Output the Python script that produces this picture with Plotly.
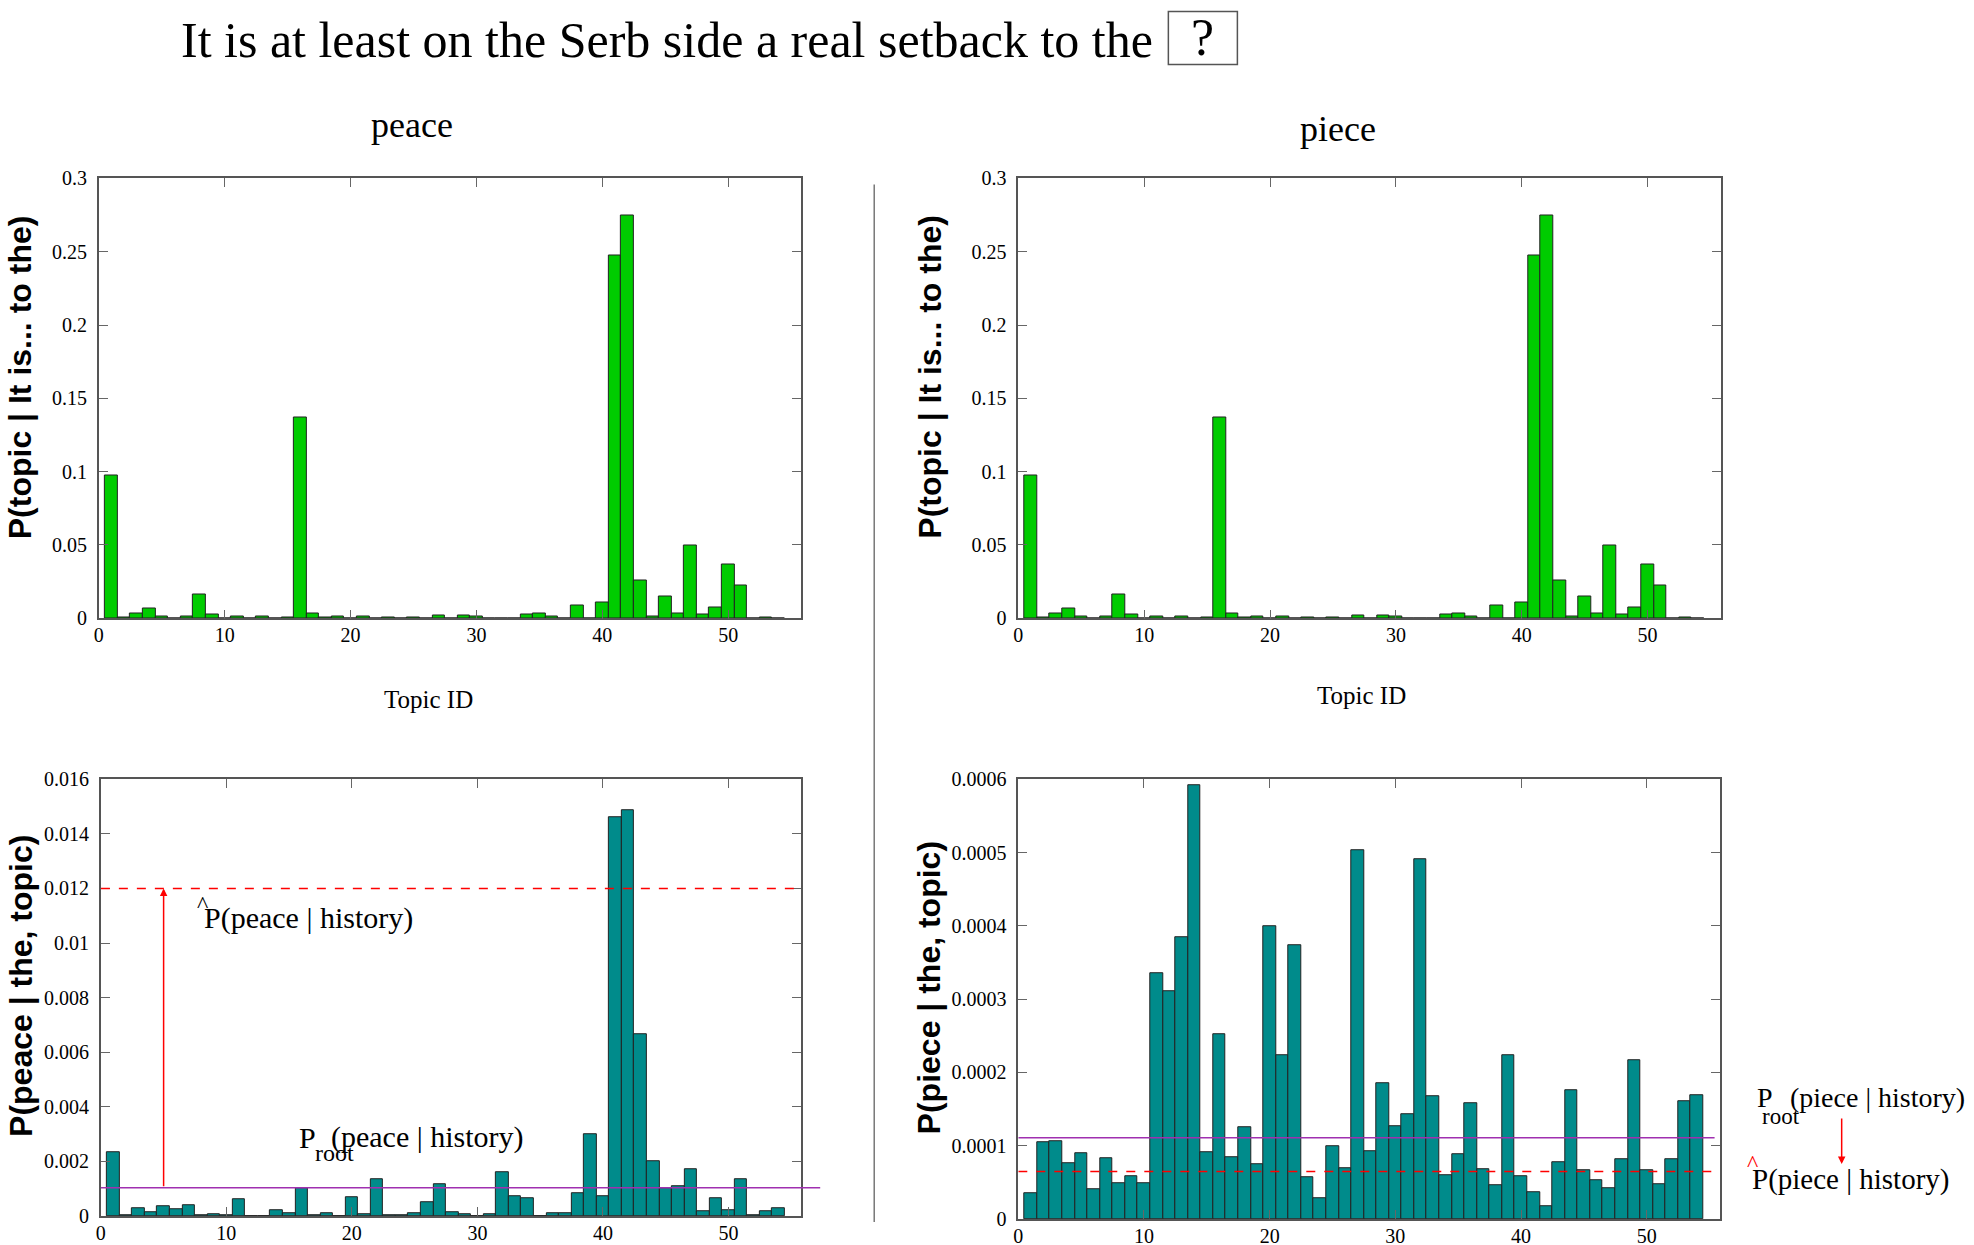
import plotly.graph_objects as go

# ─── DATA ────────────────────────────────────────────────────────────────────
topic_ids = list(range(1, 55))

p_topic = [0.0977, 0.0005, 0.003, 0.0064, 0.001, 0.0, 0.001, 0.016, 0.0023, 0.0,
           0.001, 0.0, 0.001, 0.0, 0.0005, 0.137, 0.003, 0.0005, 0.001, 0.0,
           0.001, 0.0, 0.0003, 0.0, 0.0007, 0.0, 0.002, 0.0, 0.0018, 0.001,
           0.0, 0.0, 0.0, 0.0025, 0.003, 0.0014, 0.0, 0.009, 0.0, 0.0107,
           0.2477, 0.275, 0.0255, 0.0014, 0.0148, 0.003, 0.05, 0.0023, 0.0075, 0.037,
           0.0227, 0.0, 0.0005, 0.0002]

p_peace = [0.00234, 0.00004, 0.00027, 0.00015, 0.00035, 0.00026, 0.00038, 0.00004, 0.00007, 0.00004,
           0.00063, 0.0, 0.00001, 0.0002, 0.00012, 0.00102, 0.00004, 0.00011, 0.00001, 0.0007,
           0.00007, 0.00135, 0.00004, 0.00004, 0.00011, 0.0005, 0.00116, 0.00013, 0.00006, 0.0,
           0.00005, 0.00161, 0.00073, 0.00066, 0.0, 0.00011, 0.00009, 0.00083, 0.00299, 0.00071,
           0.0146, 0.01485, 0.00665, 0.00201, 0.00101, 0.00109, 0.00173, 0.00016, 0.00065, 0.0002,
           0.00134, 0.00004, 0.00018, 0.00029]

p_piece = [0.000035, 0.000105, 0.000106, 0.000076, 0.00009, 0.00004, 0.000083, 0.000049, 0.000058, 0.000049,
           0.000336, 0.000311, 0.000384, 0.000592, 0.000091, 0.000252, 0.000084, 0.000125, 0.000075, 0.0004,
           0.000224, 0.000374, 0.000057, 0.000029, 0.000099, 0.000069, 0.000503, 0.000092, 0.000185, 0.000127,
           0.000143, 0.000491, 0.000168, 0.00006, 0.000088, 0.000158, 0.000068, 0.000046, 0.000224, 0.000059,
           0.000036, 0.000018, 0.000077, 0.000176, 0.000067, 0.000053, 0.000042, 0.000082, 0.000216, 0.000066,
           0.000048, 0.000081, 0.000161, 0.000169]

peace_root, peace_hat = 0.00104, 0.012
piece_root, piece_hat = 0.000111, 0.000065

x_ticks = [0, 10, 20, 30, 40, 50]
topic_ticks = [0, 0.05, 0.1, 0.15, 0.2, 0.25, 0.3]
topic_labels = ["0", "0.05", "0.1", "0.15", "0.2", "0.25", "0.3"]
peace_ticks = [0, 0.002, 0.004, 0.006, 0.008, 0.01, 0.012, 0.014, 0.016]
peace_labels = ["0", "0.002", "0.004", "0.006", "0.008", "0.01", "0.012", "0.014", "0.016"]
piece_ticks = [0, 0.0001, 0.0002, 0.0003, 0.0004, 0.0005, 0.0006]
piece_labels = ["0", "0.0001", "0.0002", "0.0003", "0.0004", "0.0005", "0.0006"]

# ─── LAYOUT HELPERS ──────────────────────────────────────────────────────────
W, H = 1974, 1262
SERIF = "Liberation Serif, Times New Roman, serif"
SANS = "Liberation Sans, Arial, sans-serif"
GREEN = "#00CC00"
TEAL = "#008B8B"
PURPLE = "#A030B0"
RED = "#FF0000"

# target positions are in picture pixels; the capture maps page pixels
# slightly (measured), so convert back to page pixels first
SX, OX = 0.997, 5.2
SY, OY = 0.983, 9.6


def px(x):
    return (x / SX - OX) / W


def py(y):
    return 1 - max(y / SY - OY, 0.5) / H


def axis(domain, rng, tickvals, ticktext=None, standoff=6):
    d = dict(
        domain=domain, range=rng, tickvals=tickvals,
        ticks="inside", ticklen=9, tickcolor="#666", tickwidth=1.2,
        showline=True, linecolor="#555", linewidth=1.5, mirror="ticks",
        showgrid=False, zeroline=False, ticklabelstandoff=standoff,
        tickfont=dict(family=SERIF, size=20, color="black"),
    )
    if ticktext is not None:
        d["ticktext"] = ticktext
    return d


fig = go.Figure()

panels = [
    ("x", "y", p_topic, GREEN),
    ("x2", "y2", p_topic, GREEN),
    ("x3", "y3", p_peace, TEAL),
    ("x4", "y4", p_piece, TEAL),
]
for xa, ya, vals, col in panels:
    fig.add_trace(go.Bar(
        x=topic_ids, y=vals, width=1, xaxis=xa, yaxis=ya,
        marker=dict(color=col, line=dict(color="#222", width=1)),
        showlegend=False,
    ))

x_rng = [0, 55.8]
top_y = [py(617), py(177)]

fig.update_layout(
    width=W, height=H,
    paper_bgcolor="white", plot_bgcolor="white",
    margin=dict(l=0, r=0, t=0, b=0),
    bargap=0,
    xaxis=axis([px(99), px(801)], x_rng, x_ticks, standoff=-2),
    yaxis=axis(top_y, [0, 0.3], topic_ticks, topic_labels),
    xaxis2=axis([px(1018), px(1720)], x_rng, x_ticks, standoff=-2),
    yaxis2=axis(top_y, [0, 0.3], topic_ticks, topic_labels),
    xaxis3=axis([px(101), px(801)], x_rng, x_ticks, standoff=-2),
    yaxis3=axis([py(1215), py(778)], [0, 0.016], peace_ticks, peace_labels),
    xaxis4=axis([px(1018), px(1719)], x_rng, x_ticks, standoff=-2),
    yaxis4=axis([py(1218), py(778)], [0, 0.0006], piece_ticks, piece_labels),
)
for i in ["", "2", "3", "4"]:
    fig.layout["xaxis" + i].anchor = "y" + i
    fig.layout["yaxis" + i].anchor = "x" + i

# reference lines
fig.add_shape(type="line", xref="x3", yref="y3", x0=0, x1=55.8, y0=peace_hat, y1=peace_hat,
              line=dict(color=RED, width=1.5, dash="dash"))
fig.add_shape(type="line", xref="paper", yref="y3", x0=px(101), x1=px(820), y0=peace_root, y1=peace_root,
              line=dict(color=PURPLE, width=1.5))
fig.add_shape(type="line", xref="x4", yref="y4", x0=0, x1=55.4, y0=piece_hat, y1=piece_hat,
              line=dict(color=RED, width=1.5, dash="dash"))
fig.add_shape(type="line", xref="x4", yref="y4", x0=0, x1=55.4, y0=piece_root, y1=piece_root,
              line=dict(color=PURPLE, width=1.5))

# separator and question box
fig.add_shape(type="line", xref="paper", yref="paper", x0=px(874), x1=px(874), y0=py(183), y1=py(1221),
              line=dict(color="#777", width=1.5))
fig.add_shape(type="rect", xref="paper", yref="paper", x0=px(1168), x1=px(1237), y0=py(63), y1=py(3),
              line=dict(color="#555", width=1.5))


def note(text, x, y, size, family=SERIF, xanchor="left", color="black", angle=0, weight="normal"):
    fig.add_annotation(text=text, x=px(x), y=py(y), xref="paper", yref="paper",
                       showarrow=False, xanchor=xanchor, yanchor="middle", textangle=angle,
                       font=dict(family=family, size=size, color=color, weight=weight))


note("It is at least on the Serb side a real setback to the", 179, 38, 50)
note("?", 1202, 36, 52, xanchor="center")
note("peace", 412, 123, 36, xanchor="center")
note("piece", 1338, 127, 36, xanchor="center")
note("Topic ID", 428, 698, 25, xanchor="center")
note("Topic ID", 1361, 694, 25, xanchor="center")

note("P(topic | It is... to the)", 21, 376, 32, family=SANS, xanchor="center", angle=-90, weight="bold")
note("P(topic | It is... to the)", 930, 375, 32, family=SANS, xanchor="center", angle=-90, weight="bold")
note("P(peace | the, topic)", 21, 985, 32, family=SANS, xanchor="center", angle=-90, weight="bold")
note("P(piece | the, topic)", 929, 987, 32, family=SANS, xanchor="center", angle=-90, weight="bold")

# left panel labels
note("^", 203, 903, 24, xanchor="center")
note("P(peace | history)", 202, 917, 30)
note("P", 297, 1136, 30)
note("root", 313, 1152, 24)
note("(peace | history)", 329, 1136, 30)

# right side labels
note("P", 1754, 1096, 28)
note("root", 1759, 1115, 23)
note("(piece | history)", 1787, 1096, 28)
note("^", 1752, 1162, 24, xanchor="center", color=RED)
note("P(piece | history)", 1749, 1178, 29)

# arrows
fig.add_annotation(x=5, y=peace_hat, ax=5, ay=peace_root, xref="x3", yref="y3", axref="x3", ayref="y3",
                   text="", showarrow=True, arrowhead=2, arrowsize=1, arrowwidth=1.5, arrowcolor=RED)
fig.add_annotation(x=px(1841), y=py(1163), xref="paper", yref="paper", ax=0, ay=-47,
                   text="", showarrow=True, arrowhead=2, arrowsize=1, arrowwidth=1.5, arrowcolor=RED)

fig.write_html("out.html", config=dict(displayModeBar=False),
               post_script="document.body.style.margin='0';")
